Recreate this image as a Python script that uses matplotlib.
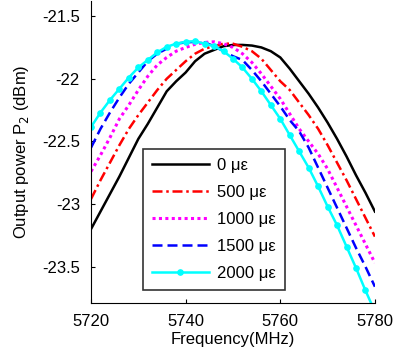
import matplotlib
matplotlib.use("Agg")
import matplotlib.pyplot as plt
import numpy as np

# -----------------------------
# Data
# -----------------------------
freq_mhz = [5720, 5722, 5724, 5726, 5728, 5730, 5732, 5734, 5736, 5738,
            5740, 5742, 5744, 5746, 5748, 5750, 5752, 5754, 5756, 5758,
            5760, 5762, 5764, 5766, 5768, 5770, 5772, 5774, 5776, 5778, 5780]

p_0 = [-23.20, -23.06, -22.92, -22.78, -22.63, -22.48, -22.36, -22.23, -22.10, -22.02,
       -21.95, -21.86, -21.80, -21.77, -21.74, -21.73, -21.73, -21.735, -21.75, -21.78,
       -21.83, -21.92, -22.02, -22.12, -22.23, -22.35, -22.48, -22.62, -22.77, -22.91, -23.06]

p_500 = [-22.96, -22.81, -22.67, -22.53, -22.40, -22.29, -22.19, -22.09, -22.00, -21.93,
         -21.86, -21.80, -21.76, -21.74, -21.72, -21.72, -21.745, -21.78, -21.84, -21.93,
         -22.02, -22.09, -22.19, -22.29, -22.40, -22.53, -22.67, -22.81, -22.96, -23.11, -23.26]

p_1000 = [-22.74, -22.61, -22.47, -22.32, -22.21, -22.09, -21.98, -21.89, -21.83, -21.78,
          -21.75, -21.725, -21.71, -21.705, -21.72, -21.75, -21.80, -21.87, -21.96, -22.06,
          -22.16, -22.28, -22.40, -22.50, -22.60, -22.72, -22.87, -23.02, -23.17, -23.32, -23.47]

p_1500 = [-22.55, -22.40, -22.27, -22.15, -22.04, -21.95, -21.86, -21.80, -21.76, -21.72,
          -21.71, -21.705, -21.71, -21.74, -21.78, -21.82, -21.85, -21.93, -22.02, -22.12,
          -22.22, -22.33, -22.42, -22.55, -22.71, -22.87, -23.03, -23.19, -23.35, -23.50, -23.66]

p_2000 = [-22.385, -22.27, -22.17, -22.08, -21.99, -21.91, -21.85, -21.79, -21.745, -21.72,
          -21.705, -21.70, -21.72, -21.74, -21.78, -21.84, -21.91, -22.00, -22.10, -22.21,
          -22.32, -22.45, -22.58, -22.71, -22.86, -23.02, -23.17, -23.34, -23.51, -23.69, -23.86]

labels = ["0 \u03bc\u03b5", "500 \u03bc\u03b5", "1000 \u03bc\u03b5", "1500 \u03bc\u03b5", "2000 \u03bc\u03b5"]
x_ticks = [5720, 5740, 5760, 5780]
y_ticks = [-23.5, -23, -22.5, -22, -21.5]
y_tick_labels = ["-23.5", "-23", "-22.5", "-22", "-21.5"]

plt.rcParams["font.family"] = ["Liberation Sans", "DejaVu Sans"]
plt.rcParams["font.size"] = 12

fig = plt.figure(figsize=(3.93, 3.62), dpi=100)
ax = fig.add_axes([0.2316, 0.163, 0.954 - 0.2316, 0.997 - 0.163])

ax.plot(freq_mhz, p_0, color="black", lw=1.8, ls="-", label=labels[0])
ax.plot(freq_mhz, p_500, color="red", lw=1.8, ls=(0, (4, 1.5, 1, 1.5)), label=labels[1])
ax.plot(freq_mhz, p_1000, color="magenta", lw=2.2, ls=(0, (1, 1.1)), label=labels[2])
ax.plot(freq_mhz, p_1500, color="blue", lw=1.8, ls=(0, (4, 2)), label=labels[3])
ax.plot(freq_mhz, p_2000, color="cyan", lw=1.8, ls="-", marker="o", ms=3.8, label=labels[4])

ax.set_xlim(5720, 5780)
ax.set_ylim(-23.79, -21.38)
ax.set_xticks(x_ticks)
ax.set_yticks(y_ticks)
ax.set_yticklabels(y_tick_labels)
ax.tick_params(direction="in", length=3, width=0.8, pad=8)
ax.spines["top"].set_visible(False)
ax.spines["right"].set_visible(False)

ax.set_xlabel("Frequency(MHz)", labelpad=2)
ax.set_ylabel("Output power P$_2$ (dBm)", labelpad=8)

leg = ax.legend(loc="lower left", bbox_to_anchor=(0.183, 0.043), borderaxespad=0,
                frameon=True, fancybox=False, edgecolor="black", handlelength=3.4,
                handletextpad=0.5, borderpad=0.55, labelspacing=0.72, fontsize=12)
leg.get_frame().set_linewidth(1.2)

fig.savefig("out.png", dpi=100)
